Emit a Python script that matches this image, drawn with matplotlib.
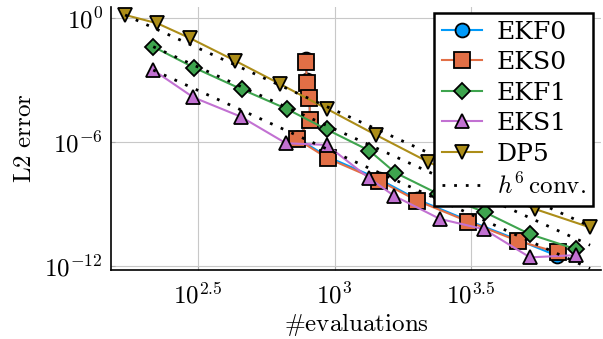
import numpy as np
import matplotlib
matplotlib.use("Agg")
import matplotlib.pyplot as plt

plt.rcParams["mathtext.fontset"] = "cm"
plt.rcParams["font.family"] = "serif"

# values, as log10(#evaluations) and log10(L2 error)
ekf0_logx = [2.896, 2.898, 2.908, 2.910, 2.864, 2.975, 3.164, 3.303, 3.490, 3.673, 3.815]
ekf0_logy = [-1.98, -3.02, -3.82, -4.90, -5.82, -6.72, -7.80, -8.78, -9.80, -10.74, -11.50]
eks0_logx = [2.896, 2.898, 2.908, 2.910, 2.864, 2.975, 3.164, 3.303, 3.490, 3.673, 3.818]
eks0_logy = [-2.11, -3.16, -3.88, -4.93, -5.87, -6.79, -7.87, -8.84, -9.85, -10.79, -11.34]
ekf1_logx = [2.336, 2.485, 2.660, 2.825, 2.971, 3.128, 3.222, 3.380, 3.551, 3.716, 3.885]
ekf1_logy = [-1.39, -2.40, -3.45, -4.40, -5.39, -6.42, -7.48, -8.51, -9.40, -10.46, -11.19]
eks1_logx = [2.336, 2.483, 2.656, 2.822, 2.971, 3.128, 3.218, 3.386, 3.548, 3.716, 3.885]
eks1_logy = [-2.52, -3.84, -4.77, -6.06, -6.14, -7.76, -8.60, -9.72, -10.22, -11.58, -11.47]
dp5_logx = [2.233, 2.351, 2.471, 2.636, 2.800, 2.971, 3.152, 3.341, 3.537, 3.734, 3.936]
dp5_logy = [0.145, -0.26, -0.98, -2.07, -3.19, -4.39, -5.66, -6.95, -8.13, -9.24, -10.13]

ORDER = 6  # slope of the h^6 reference lines

series = [
    ("EKF0", ekf0_logx, ekf0_logy, "#009AF9", "o", 10),
    ("EKS0", eks0_logx, eks0_logy, "#E26F46", "s", 11),
    ("EKF1", ekf1_logx, ekf1_logy, "#3EA44E", "D", 8),
    ("EKS1", eks1_logx, eks1_logy, "#C271D2", "^", 10),
    ("DP5", dp5_logx, dp5_logy, "#AC8D18", "v", 10),
]

fig = plt.figure(figsize=(6.03, 3.39), dpi=100)
ax = fig.add_axes([111 / 603, 69 / 339, 490 / 603, 263 / 339])

for label, lx, ly, color, marker, ms in series:
    ax.plot(10.0 ** np.array(lx), 10.0 ** np.array(ly), color=color, lw=1.5,
            marker=marker, ms=ms, mfc=color, mec="black", mew=1.3, label=label)

xmax = max(dp5_logx)
for i, (lx, ly) in enumerate([(ekf1_logx, ekf1_logy), (eks1_logx, eks1_logy), (dp5_logx, dp5_logy)]):
    xs = np.linspace(lx[0], xmax, 50)
    ys = ly[0] - ORDER * (xs - lx[0])
    ax.plot(10.0 ** xs, 10.0 ** ys, color="black", ls=(0, (1, 3.2)), lw=2.0,
            label=r"$h^6\,\mathrm{conv.}$" if i == 0 else None)

ax.set_xscale("log")
ax.set_yscale("log")
ax.set_xlim(10 ** 2.1813, 10 ** 3.976)
ax.set_ylim(10 ** -12.19, 10 ** 0.53)

ax.set_xticks([10 ** 2.5, 10 ** 3, 10 ** 3.5])
ax.set_xticklabels([r"$10^{2.5}$", r"$10^{3}$", r"$10^{3.5}$"])
ax.set_yticks([1e-12, 1e-6, 1e0])
ax.set_yticklabels([r"$10^{-12}$", r"$10^{-6}$", r"$10^{0}$"])
ax.minorticks_off()
ax.tick_params(direction="in", length=3, color="#aaaaaa", labelsize=18)
ax.tick_params(axis="x", pad=9)
ax.tick_params(axis="y", pad=6)
ax.grid(True, color="#c8c8c8", lw=0.8)
ax.set_axisbelow(True)

for side in ("top", "right"):
    ax.spines[side].set_visible(False)
for side in ("left", "bottom"):
    ax.spines[side].set_linewidth(1.2)

ax.set_xlabel(r"$\#\mathrm{evaluations}$", fontsize=18, labelpad=2)
ax.set_ylabel(r"$\mathrm{L2\ error}$", fontsize=18, labelpad=6)

leg = ax.legend(loc="upper right", bbox_to_anchor=(0.984, 0.977), borderaxespad=0,
                fontsize=18, frameon=True, fancybox=False, framealpha=1,
                edgecolor="black", handlelength=1.6, handletextpad=0.6,
                labelspacing=0.3, borderpad=0.3)
leg.get_frame().set_linewidth(1.8)

fig.savefig("out.png", dpi=100)
